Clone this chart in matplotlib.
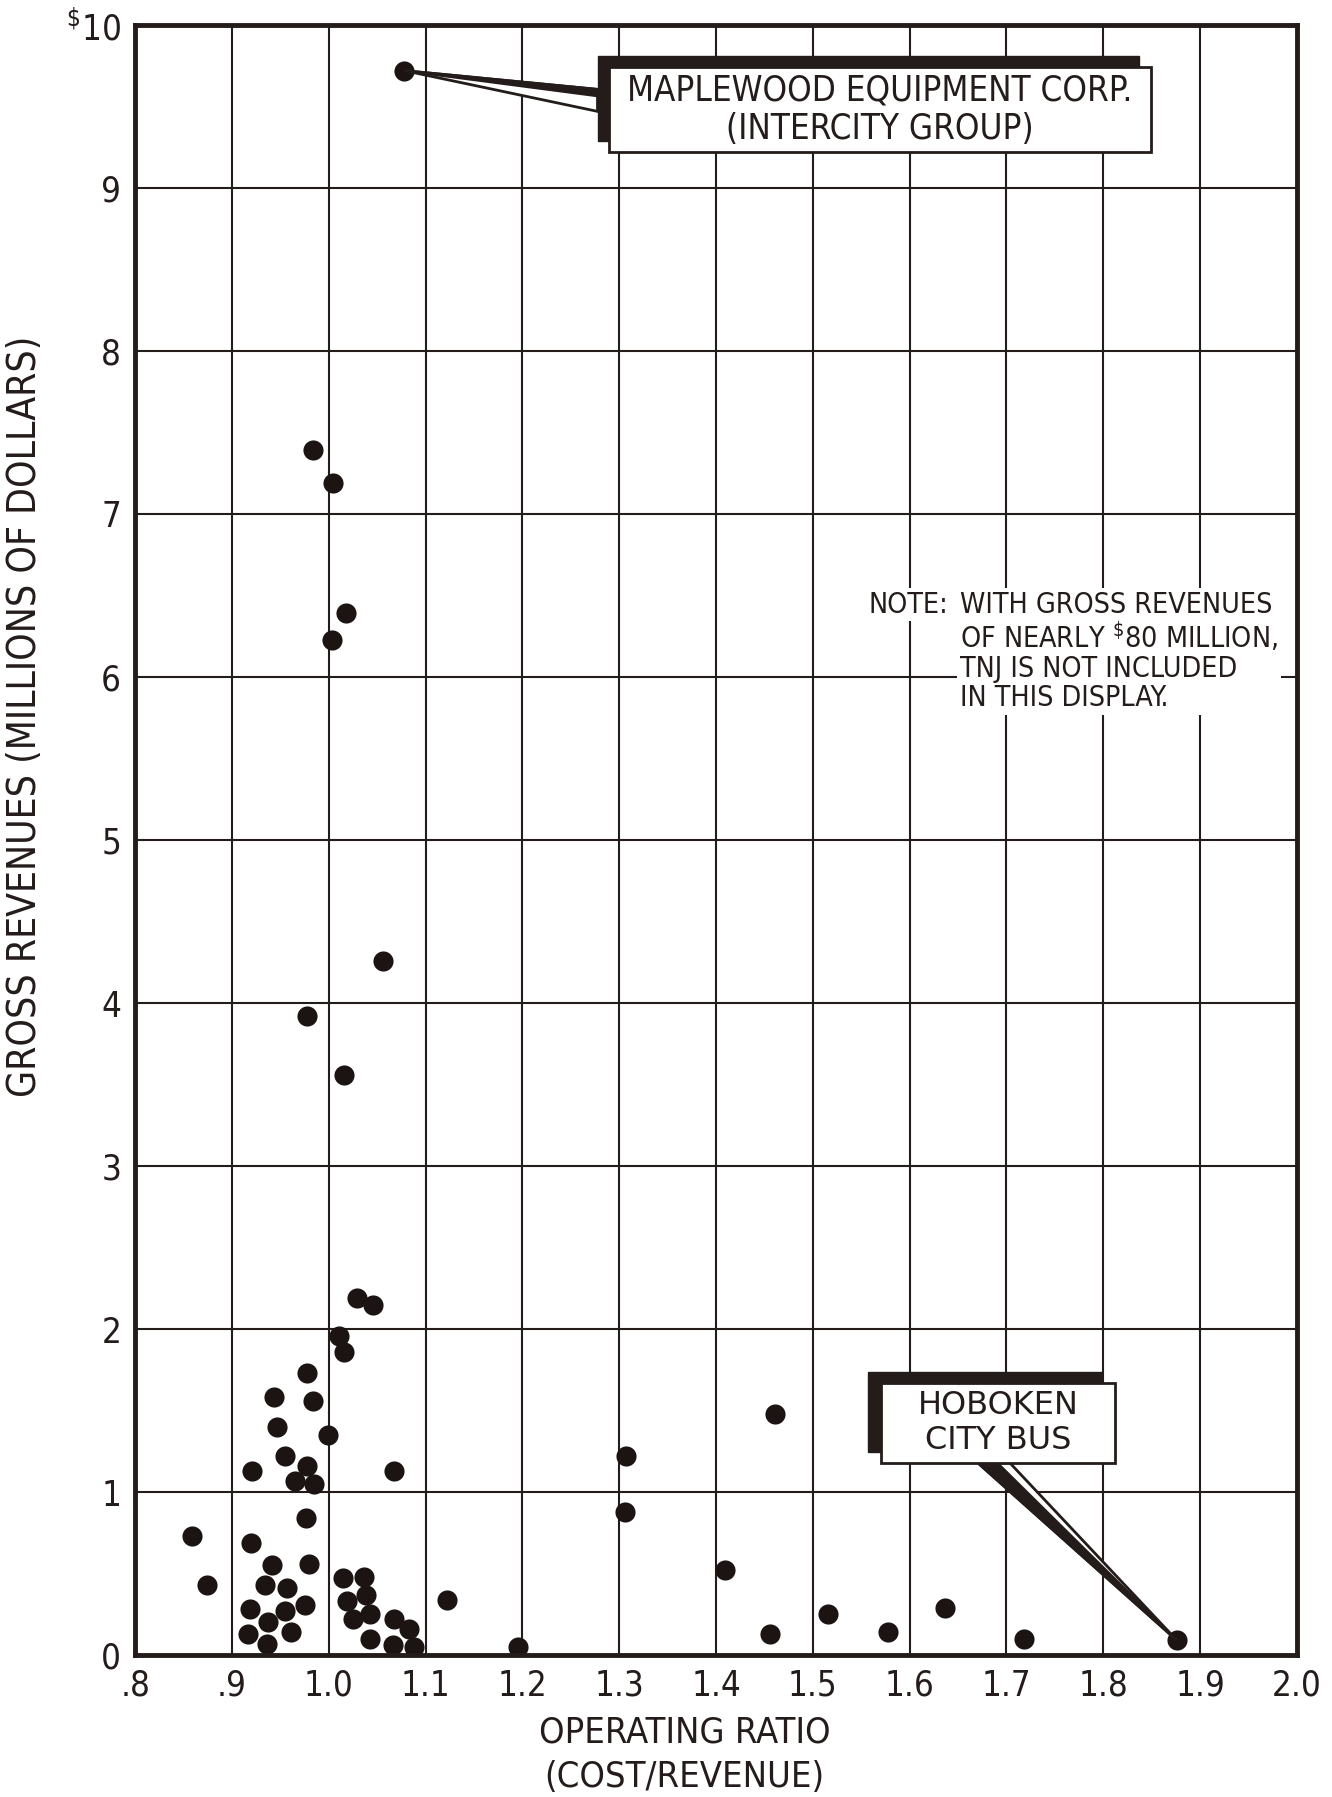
import matplotlib
matplotlib.use("Agg")
import matplotlib.pyplot as plt
from matplotlib.patches import Rectangle, Polygon

plt.rcParams['font.family'] = ['DejaVu Sans']
plt.rcParams['font.stretch'] = 'condensed'

INK = '#241c1a'

# operating ratio (cost/revenue) and gross revenues ($ millions)
ratio = [1.078, 0.984, 1.004, 1.018, 1.003, 1.056, 0.978, 1.016,
         1.029, 1.046, 1.011, 1.016, 0.978, 0.943, 0.984, 0.947, 0.999,
         0.955, 0.921, 0.978, 0.965, 0.985, 1.067,
         0.859, 0.977, 0.874, 0.920, 0.941, 0.980, 0.934, 0.957, 0.919,
         0.937, 0.955, 0.975, 0.917, 0.961, 0.936,
         1.015, 1.036, 1.019, 1.038, 1.025, 1.043, 1.043, 1.067, 1.083,
         1.066, 1.088, 1.122, 1.196,
         1.307, 1.306, 1.409, 1.461, 1.456, 1.516, 1.578, 1.636, 1.718, 1.876]
revenue = [9.72, 7.39, 7.19, 6.39, 6.23, 4.26, 3.92, 3.56,
           2.19, 2.15, 1.96, 1.86, 1.73, 1.58, 1.56, 1.40, 1.35,
           1.22, 1.13, 1.16, 1.07, 1.05, 1.13,
           0.73, 0.84, 0.43, 0.69, 0.55, 0.56, 0.43, 0.41, 0.28,
           0.20, 0.27, 0.31, 0.13, 0.14, 0.07,
           0.47, 0.48, 0.33, 0.37, 0.22, 0.25, 0.10, 0.22, 0.16,
           0.06, 0.05, 0.34, 0.05,
           1.22, 0.88, 0.52, 1.48, 0.13, 0.25, 0.14, 0.29, 0.10, 0.09]

x_ticks = [0.8, 0.9, 1.0, 1.1, 1.2, 1.3, 1.4, 1.5, 1.6, 1.7, 1.8, 1.9, 2.0]
x_labels = ['.8', '.9', '1.0', '1.1', '1.2', '1.3', '1.4', '1.5', '1.6',
            '1.7', '1.8', '1.9', '2.0']
y_ticks = [0, 1, 2, 3, 4, 5, 6, 7, 8, 9, 10]
y_labels = ['0', '1', '2', '3', '4', '5', '6', '7', '8', '9', r'$^{\$}$10']

note_lines = ['WITH GROSS REVENUES', r'OF NEARLY $^{\$}$80 MILLION,',
              'TNJ IS NOT INCLUDED', 'IN THIS DISPLAY.']

fig = plt.figure(figsize=(13.32, 17.97), dpi=100)
ax = fig.add_axes([0.1014, 0.079, 0.8723, 0.9071])
ax.set_xlim(0.8, 2.0)
ax.set_ylim(0, 10)
ax.set_xticks(x_ticks)
ax.set_xticklabels(x_labels, fontsize=25, color=INK)
ax.set_yticks(y_ticks)
ax.set_yticklabels(y_labels, fontsize=25, color=INK)
ax.tick_params(length=0, pad=10)
ax.grid(True, color=INK, linewidth=1.5, zorder=1)
ax.set_axisbelow(True)
for s in ax.spines.values():
    s.set_linewidth(3.5)
    s.set_color(INK)
    s.set_zorder(5)

ax.scatter(ratio, revenue, s=210, color='#1c1412', zorder=4, linewidths=0)


def to_data(fx, fy):
    return 0.8 + fx * 1.2, fy * 10


def callout(x0, y0, x1, y1, dx, dy, lines, size, stretch):
    # shadow then white box
    ax.add_patch(Rectangle((x0 - dx, y0 + dy), x1 - x0, y1 - y0,
                           transform=ax.transAxes, color=INK, zorder=6))
    ax.add_patch(Rectangle((x0, y0), x1 - x0, y1 - y0, transform=ax.transAxes,
                           facecolor='white', edgecolor=INK, lw=2, zorder=7))
    ax.text((x0 + x1) / 2, (y0 + y1) / 2, '\n'.join(lines), transform=ax.transAxes,
            ha='center', va='center', fontsize=size, color=INK, zorder=8,
            linespacing=1.17, fontstretch=stretch)


# Maplewood (highest revenue)
i_top = revenue.index(max(revenue))
tip = (ratio[i_top], revenue[i_top])
b1 = to_data(0.398, 0.9605)
b1b = to_data(0.398, 0.9565)
b2 = to_data(0.398, 0.947)
ax.add_patch(Polygon([tip, b1, b2], closed=True, facecolor='white',
                     edgecolor=INK, lw=2, zorder=6))
ax.add_patch(Polygon([tip, b1, b1b], closed=True, facecolor=INK,
                     edgecolor=INK, lw=2, zorder=6))
callout(0.408, 0.922, 0.874, 0.974, 0.010, 0.007,
        ['MAPLEWOOD EQUIPMENT CORP.', '(INTERCITY GROUP)'], 25, 'condensed')

# Hoboken (highest ratio)
i_hob = ratio.index(max(ratio))
tip = (ratio[i_hob], revenue[i_hob])
b1 = to_data(0.7255, 0.1178)
b1b = to_data(0.742, 0.1178)
b2 = to_data(0.753, 0.1178)
ax.add_patch(Polygon([tip, b1, b2], closed=True, facecolor='white',
                     edgecolor=INK, lw=2, zorder=6))
ax.add_patch(Polygon([tip, b1, b1b], closed=True, facecolor=INK,
                     edgecolor=INK, lw=2, zorder=6))
callout(0.642, 0.1178, 0.8434, 0.1669, 0.011, 0.0067,
        ['HOBOKEN', 'CITY BUS'], 23, 'normal')

# note
ax.text(0.631, 0.653, 'NOTE:', transform=ax.transAxes, fontsize=20.5,
        color=INK, va='top', ha='left', zorder=8,
        bbox=dict(facecolor='white', edgecolor='none', pad=2))
ax.text(0.710, 0.653, '\n'.join(note_lines), transform=ax.transAxes,
        fontsize=20.5, color=INK, va='top', ha='left', zorder=8,
        linespacing=1.05, bbox=dict(facecolor='white', edgecolor='none', pad=2))

fig.text(0.019, 0.6015, 'GROSS REVENUES (MILLIONS OF DOLLARS)', rotation=90,
         ha='center', va='center', fontsize=28, color=INK)
fig.text(0.514, 0.036, 'OPERATING RATIO', ha='center', va='center',
         fontsize=26, color=INK)
fig.text(0.514, 0.011, '(COST/REVENUE)', ha='center', va='center',
         fontsize=26, color=INK)

fig.savefig('out.png', dpi=100, facecolor='white')
